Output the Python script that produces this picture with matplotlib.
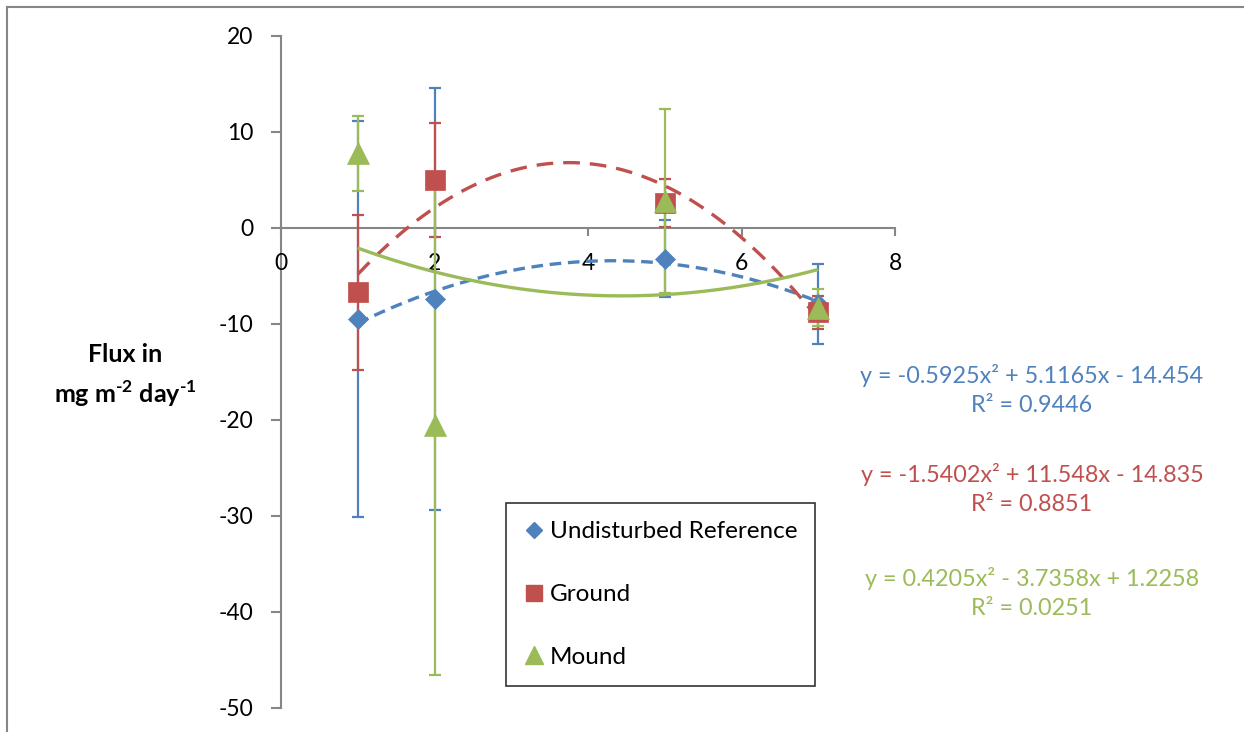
import numpy as np
import matplotlib
matplotlib.use('Agg')
import matplotlib.pyplot as plt
from matplotlib.lines import Line2D

plt.rcParams['font.family'] = ['Lato', 'DejaVu Sans']
plt.rcParams['axes.unicode_minus'] = False
plt.rcParams['mathtext.fontset'] = 'custom'
plt.rcParams['mathtext.rm'] = 'Lato:bold'
plt.rcParams['mathtext.bf'] = 'Lato:bold'

# data
x = [1, 2, 5, 7]
undisturbed = [-9.5, -7.4, -3.2, -7.9]
undisturbed_err = [20.6, 22.0, 4.0, 4.2]
ground = [-6.7, 5.0, 2.6, -8.8]
ground_err = [8.1, 5.9, 2.5, 1.7]
mound = [7.8, -20.5, 2.8, -8.3]
mound_err = [3.9, 26.1, 9.6, 1.9]

# quadratic trendlines as printed on the chart
undisturbed_fit = [-0.5925, 5.1165, -14.454]
ground_fit = [-1.5402, 11.548, -14.835]
mound_fit = [0.4205, -3.7358, 1.2258]
r2 = ['0.9446', '0.8851', '0.0251']

names = ['Undisturbed Reference', 'Ground', 'Mound']
colors = ['#4F81BD', '#C0504D', '#9BBB59']
markers = ['D', 's', '^']
msizes = [10, 14, 16]

fig = plt.figure(figsize=(12.44, 7.32), dpi=100)
ax = fig.add_axes([281 / 1244, 1 - 708 / 732, (895 - 281) / 1244, (708 - 36) / 732])

series = [(undisturbed, undisturbed_err, undisturbed_fit, (0, (3.5, 2))),
          (ground, ground_err, ground_fit, (0, (5, 3))),
          (mound, mound_err, mound_fit, '-')]

xs = np.linspace(1, 7, 200)
for i, (y, err, fit, ls) in enumerate(series):
    c = colors[i]
    ax.errorbar(x, y, yerr=err, fmt='none', ecolor=c, elinewidth=1.6,
                capsize=4.5, capthick=1.6, zorder=2 + i)
    ax.plot(xs, np.polyval(fit, xs), color=c, lw=2.4, ls=ls, zorder=6,
            solid_capstyle='butt', dash_capstyle='butt')
    ax.plot(x, y, ls='none', marker=markers[i], ms=msizes[i], color=c,
            mec=c, mew=0.5, zorder=8 + i)

ax.set_xlim(0, 8)
ax.set_ylim(-50, 20)
ax.set_xticks(range(0, 9, 2))
ax.set_yticks(range(-50, 21, 10))

for s in ['top', 'right']:
    ax.spines[s].set_visible(False)
ax.spines['bottom'].set_position(('data', 0))
for s in ['left', 'bottom']:
    ax.spines[s].set_color('#868686')
    ax.spines[s].set_linewidth(1.5)
    ax.spines[s].set_zorder(1)
ax.tick_params(axis='y', direction='out', length=7, width=1.5, color='#868686',
               pad=13, labelsize=16.5)
ax.tick_params(axis='x', direction='out', length=6, width=1.5, color='#868686',
               pad=12, labelsize=16.5)
ax.patch.set_alpha(0)

# trendline equations
fits = [undisturbed_fit, ground_fit, mound_fit]
ypos = [373, 472, 576]


def fmt_eq(c):
    def term(v, first=False):
        if first:
            return f'{v:g}'
        return (' - ' if v < 0 else ' + ') + f'{abs(v):g}'
    return 'y = ' + term(c[0], True) + 'x\u00b2' + term(c[1]) + 'x' + term(c[2])


for i in range(3):
    fig.text(1032 / 1244, 1 - (ypos[i] + 17) / 732,
             fmt_eq(fits[i]) + '\nR\u00b2 = ' + r2[i],
             ha='center', va='center', color=colors[i], fontsize=16.8,
             linespacing=1.5)

# y label
fig.text(125 / 1244, 1 - 376 / 732,
         'Flux in\nmg m$^{\\text{-}2}$ day$^{\\text{-}1}$',
         ha='center', va='center', fontsize=18, fontweight='bold',
         linespacing=1.55)

handles = [Line2D([], [], ls='none', marker=markers[i], ms=msizes[i] * 0.85,
                  color=colors[i]) for i in range(3)]
leg = fig.legend(handles, names, loc='upper left',
                 bbox_to_anchor=(506 / 1244, 1 - 503 / 732),
                 frameon=True, fancybox=False, fontsize=17.5,
                 handlelength=0.8, handletextpad=0.25, labelspacing=1.72,
                 borderpad=0.75, borderaxespad=0)
leg.get_frame().set_edgecolor('black')
leg.get_frame().set_linewidth(1.2)

# chart area border
fig.add_artist(Line2D([7 / 1244, 7 / 1244], [-0.1, 1 - 7 / 732],
                      color='#868686', lw=1.5))
fig.add_artist(Line2D([7 / 1244, 1.1], [1 - 7 / 732, 1 - 7 / 732],
                      color='#868686', lw=1.5))

fig.savefig('out.png', dpi=100)
